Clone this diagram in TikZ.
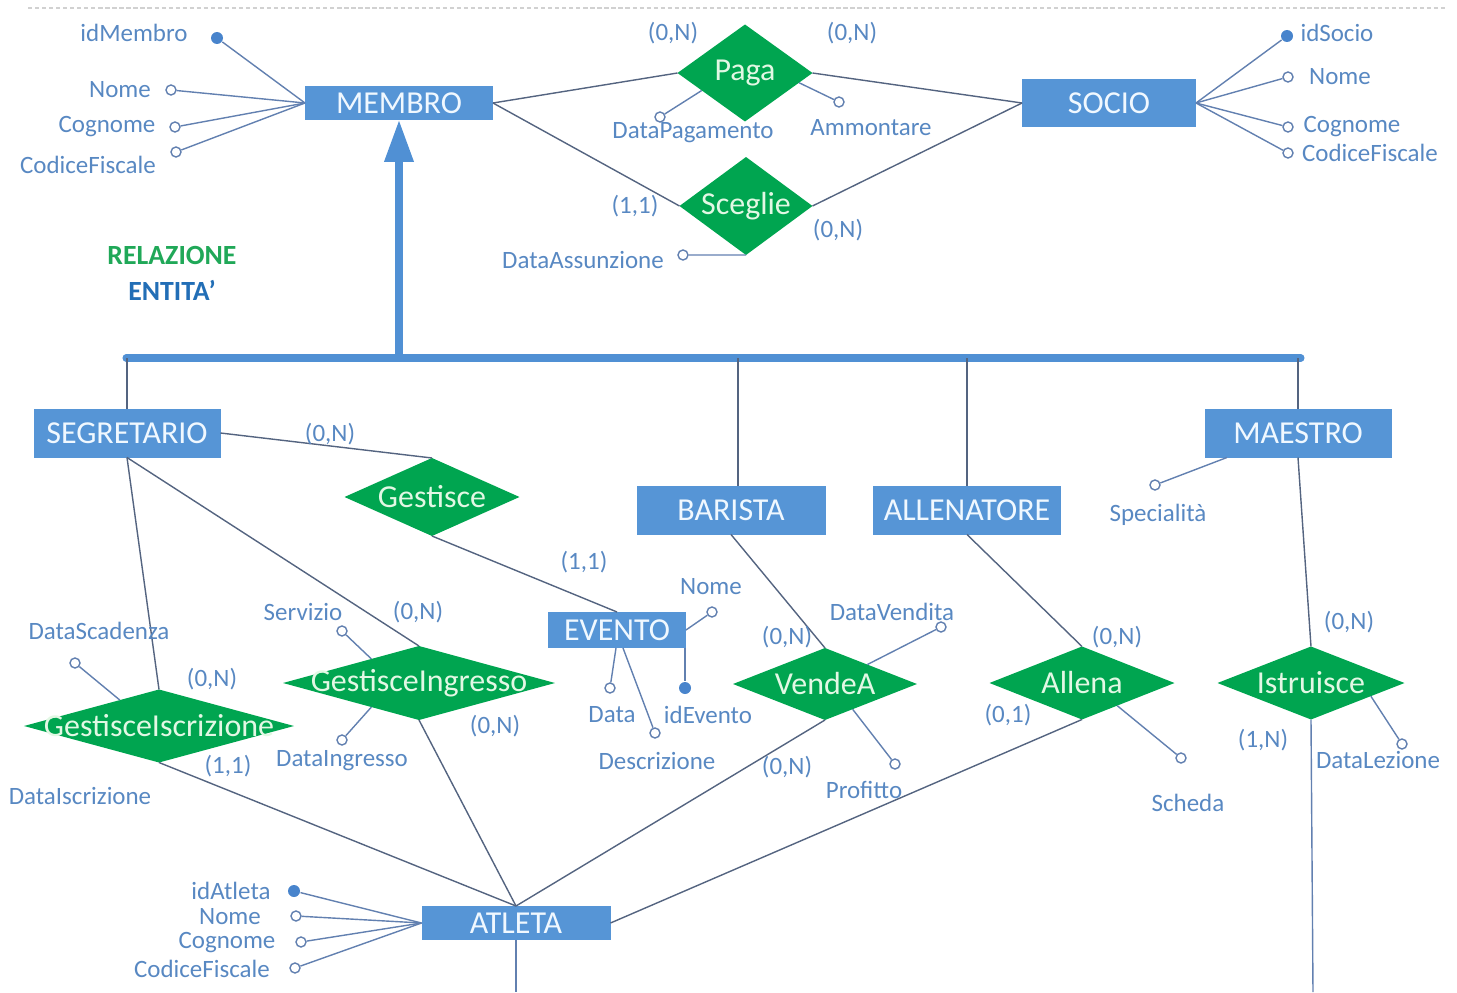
\documentclass[tikz,border=0pt]{standalone}
\usepackage{fontspec}
\setmainfont{Carlito}
\usetikzlibrary{shapes.geometric, arrows.meta, calc}
\definecolor{entblue}{RGB}{86,149,214}
\definecolor{relgreen}{RGB}{0,165,80}
\definecolor{attrblue}{RGB}{88,136,194}
\definecolor{linegray}{RGB}{84,100,128}
\definecolor{attrline}{RGB}{98,128,176}
\definecolor{keyblue}{RGB}{72,132,204}
\definecolor{isablue}{RGB}{80,144,212}
\definecolor{legendgreen}{RGB}{32,168,88}
\definecolor{legendblue}{RGB}{34,110,182}
\tikzset{
  entity/.style={rectangle, fill=entblue, text={rgb,255:red,240;green,248;blue,255}, inner sep=0pt, outer sep=0pt, font=\fontsize{9.1}{10}\selectfont},
  relation/.style={diamond, fill=relgreen, text={rgb,255:red,226;green,248;blue,228}, inner sep=0pt, outer sep=0pt, aspect=1, font=\fontsize{9.1}{10}\selectfont},
  attr/.style={circle, draw=attrline, fill=white, line width=0.4pt, inner sep=0pt, minimum size=0.1cm},
  keyattr/.style={circle, fill=keyblue, inner sep=0pt, minimum size=0.12cm},
  attrtext/.style={text=attrblue, inner sep=0pt, font=\fontsize{7.1}{8}\selectfont},
  card/.style={text=attrblue, inner sep=0pt, font=\fontsize{7.1}{8}\selectfont},
  conn/.style={draw=linegray, line width=0.4pt},
  attrconn/.style={draw=attrline, line width=0.4pt},
  isabar/.style={draw=isablue, line width=2pt},
  isachild/.style={draw=linegray, line width=0.55pt},
  topline/.style={draw=black!18, line width=0.4pt, dash pattern=on 1.2pt off 0.8pt}
}
\begin{document}
\begin{tikzpicture}
\useasboundingbox (0, 0) rectangle (14.57, 9.92);
\coordinate (tlL) at (0.28, 9.84);
\coordinate (tlR) at (14.45, 9.84);
\draw[topline] (tlL) -- (tlR);

\node[entity, minimum width=1.88cm, minimum height=0.34cm] (membro) at (3.99, 8.89) {MEMBRO};
\node[entity, minimum width=1.74cm, minimum height=0.48cm] (socio) at (11.09, 8.89) {SOCIO};
\node[entity, minimum width=1.87cm, minimum height=0.49cm] (segr) at (1.27, 5.59) {SEGRETARIO};
\node[entity, minimum width=1.89cm, minimum height=0.49cm] (barista) at (7.31, 4.82) {BARISTA};
\node[entity, minimum width=1.88cm, minimum height=0.49cm] (allen) at (9.67, 4.82) {ALLENATORE};
\node[entity, minimum width=1.87cm, minimum height=0.49cm] (maestro) at (12.98, 5.59) {MAESTRO};
\node[entity, minimum width=1.38cm, minimum height=0.36cm] (evento) at (6.17, 3.62) {EVENTO};
\node[entity, minimum width=1.89cm, minimum height=0.34cm] (atleta) at (5.16, 0.69) {ATLETA};

\node[relation, minimum width=1.35cm, minimum height=0.97cm] (paga) at (7.45, 9.19) {\makebox[0pt]{Paga}};
\node[relation, minimum width=1.33cm, minimum height=0.98cm] (sceglie) at (7.46, 7.86) {\makebox[0pt]{Sceglie}};
\node[relation, minimum width=1.75cm, minimum height=0.78cm] (gest) at (4.32, 4.95) {\makebox[0pt]{Gestisce}};
\node[relation, minimum width=2.72cm, minimum height=0.74cm] (gingr) at (4.19, 3.09) {\makebox[0pt]{GestisceIngresso}};
\node[relation, minimum width=2.70cm, minimum height=0.73cm] (giscr) at (1.59, 2.66) {\makebox[0pt]{GestisceIscrizione}};
\node[relation, minimum width=1.84cm, minimum height=0.72cm] (vende) at (8.25, 3.08) {\makebox[0pt]{VendeA}};
\node[relation, minimum width=1.85cm, minimum height=0.73cm] (allena) at (10.82, 3.09) {\makebox[0pt]{Allena}};
\node[relation, minimum width=1.87cm, minimum height=0.73cm] (istr) at (13.11, 3.09) {\makebox[0pt]{Istruisce}};

\node[text=legendgreen, font=\fontsize{7.9}{9}\selectfont\bfseries] (legRel) at (1.72, 7.37) {RELAZIONE};
\node[text=legendblue, font=\fontsize{7.9}{9}\selectfont\bfseries] (legEnt) at (1.72, 7.02) {ENTITA’};

% gerarchia
\coordinate (isaL) at (1.26, 6.34);
\coordinate (isaR) at (13.01, 6.34);
\coordinate (isaM) at (3.99, 6.34);
\coordinate (isaB) at (7.38, 6.34);
\draw[isabar, line cap=round] (isaL) -- (isaR);
\draw[isabar, -{Triangle[length=4.2mm, width=2.8mm]}] (isaM) -- (membro.south);
\draw[isachild] (segr.north |- isaL) -- (segr.north);
\draw[isachild] (isaB) -- (isaB |- barista.north);
\draw[isachild] (allen.north |- isaL) -- (allen.north);
\draw[isachild] (maestro.north |- isaL) -- (maestro.north);

% relazioni
\draw[conn] (membro.east) -- (paga.west);
\draw[conn] (paga.east) -- (socio.west);
\draw[conn] (membro.east) -- (sceglie.west);
\draw[conn] (sceglie.east) -- (socio.west);
\draw[conn] (segr.east) -- (gest.north);
\draw[conn] (gest.south) -- (evento.north);
\draw[conn] (segr.south) -- (giscr.north);
\draw[conn] (segr.south) -- (gingr.north);
\draw[conn] (giscr.south) -- (atleta.north);
\draw[conn] (gingr.south) -- (atleta.north);
\draw[conn] (barista.south) -- (vende.north);
\draw[conn] (vende.south) -- (atleta.north);
\draw[conn] (allen.south) -- (allena.north);
\draw[conn] (allena.south) -- (atleta.east);
\draw[conn] (maestro.south) -- (istr.north);
\coordinate (istrEnd) at (13.13, 0);
\coordinate (atlEnd) at (5.16, 0);
\draw[attrconn] (istr.south) -- (istrEnd);
\draw[attrconn] (atleta.south) -- (atlEnd);

\node[card] (cPagaM) at (6.73, 9.59) {(0,N)};
\node[card] (cPagaS) at (8.52, 9.59) {(0,N)};
\node[card] (cScM) at (6.35, 7.86) {(1,1)};
\node[card] (cScS) at (8.38, 7.62) {(0,N)};
\node[card] (cGeS) at (3.30, 5.58) {(0,N)};
\node[card] (cGeE) at (5.84, 4.30) {(1,1)};
\node[card] (cInS) at (4.18, 3.80) {(0,N)};
\node[card] (cIsS) at (2.12, 3.13) {(0,N)};
\node[card] (cIsA) at (2.28, 2.26) {(1,1)};
\node[card] (cInA) at (4.95, 2.66) {(0,N)};
\node[card] (cVeB) at (7.87, 3.55) {(0,N)};
\node[card] (cVeA) at (7.87, 2.25) {(0,N)};
\node[card] (cAlA) at (11.17, 3.55) {(0,N)};
\node[card] (cAlT) at (10.08, 2.77) {(0,1)};
\node[card] (cIsM) at (13.49, 3.70) {(0,N)};
\node[card] (cIsT) at (12.63, 2.52) {(1,N)};

% attributi MEMBRO
\node[keyattr] (mId) at (2.17, 9.54) {};
\node[attr] (mNome) at (1.71, 9.02) {};
\node[attr] (mCogn) at (1.75, 8.65) {};
\node[attr] (mCF) at (1.76, 8.40) {};
\draw[attrconn] (membro.west) -- (mId);
\draw[attrconn] (membro.west) -- (mNome);
\draw[attrconn] (membro.west) -- (mCogn);
\draw[attrconn] (membro.west) -- (mCF);
\node[attrtext] (mIdL) at (1.34, 9.59) {idMembro};
\node[attrtext] (mNomeL) at (1.20, 9.02) {Nome};
\node[attrtext] (mCognL) at (1.07, 8.65) {Cognome};
\node[attrtext] (mCFL) at (0.88, 8.27) {CodiceFiscale};

% attributi SOCIO
\node[keyattr] (sId) at (12.87, 9.56) {};
\node[attr] (sNome) at (12.88, 9.15) {};
\node[attr] (sCogn) at (12.88, 8.65) {};
\node[attr] (sCF) at (12.88, 8.39) {};
\draw[attrconn] (socio.east) -- (sId);
\draw[attrconn] (socio.east) -- (sNome);
\draw[attrconn] (socio.east) -- (sCogn);
\draw[attrconn] (socio.east) -- (sCF);
\node[attrtext] (sIdL) at (13.37, 9.59) {idSocio};
\node[attrtext] (sNomeL) at (13.40, 9.15) {Nome};
\node[attrtext] (sCognL) at (13.52, 8.65) {Cognome};
\node[attrtext] (sCFL) at (13.70, 8.39) {CodiceFiscale};

% attributi delle relazioni in alto
\node[attr] (pData) at (6.60, 8.75) {};
\node[attr] (pAmm) at (8.39, 8.90) {};
\node[attr] (scData) at (6.83, 7.37) {};
\draw[attrconn] ($(paga.west)!0.36!(paga.south)$) -- (pData);
\draw[attrconn] ($(paga.east)!0.2!(paga.south)$) -- (pAmm);
\draw[attrconn] (sceglie.south) -- (scData);
\node[attrtext] (pDataL) at (6.93, 8.59) {DataPagamento};
\node[attrtext] (pAmmL) at (8.71, 8.64) {Ammontare};
\node[attrtext] (scDataL) at (5.83, 7.32) {DataAssunzione};

% attributi in basso
\node[attr] (isScad) at (0.75, 3.29) {};
\draw[attrconn] ($(giscr.west)!0.71!(giscr.north)$) -- (isScad);
\node[attrtext] (isScadL) at (0.99, 3.61) {DataScadenza};
\node[attrtext] (isIscrL) at (0.80, 1.96) {DataIscrizione};
\node[attr] (inServ) at (3.42, 3.61) {};
\node[attr] (inData) at (3.42, 2.52) {};
\draw[attrconn] ($(gingr.west)!0.65!(gingr.north)$) -- (inServ);
\draw[attrconn] ($(gingr.west)!0.65!(gingr.south)$) -- (inData);
\node[attrtext] (inServL) at (3.03, 3.80) {Servizio};
\node[attrtext] (inDataL) at (3.42, 2.31) {DataIngresso};

\node[attr] (evNome) at (7.12, 3.80) {};
\node[keyattr] (evId) at (6.85, 3.04) {};
\node[attr] (evData) at (6.10, 3.04) {};
\node[attr] (evDesc) at (6.55, 2.59) {};
\draw[attrconn] (evento.east) -- (evNome);
\draw[attrconn] (evId |- evento.south) -- (evId);
\draw[attrconn] ($(evento.south)+(-0.01, 0)$) -- (evData);
\draw[attrconn] ($(evento.south)+(0.06, 0)$) -- (evDesc);
\node[attrtext] (evNomeL) at (7.11, 4.05) {Nome};
\node[attrtext] (evIdL) at (7.08, 2.77) {idEvento};
\node[attrtext] (evDataL) at (6.12, 2.77) {Data};
\node[attrtext] (evDescL) at (6.57, 2.31) {Descrizione};

\node[attr] (veData) at (9.41, 3.65) {};
\node[attr] (veProf) at (8.95, 2.28) {};
\draw[attrconn] ($(vende.north)!0.46!(vende.east)$) -- (veData);
\draw[attrconn] ($(vende.south)!0.3!(vende.east)$) -- (veProf);
\node[attrtext] (veDataL) at (8.92, 3.80) {DataVendita};
\node[attrtext] (veProfL) at (8.64, 2.02) {Profitto};

\node[attr] (alSch) at (11.81, 2.34) {};
\draw[attrconn] ($(allena.south)!0.38!(allena.east)$) -- (alSch);
\node[attrtext] (alSchL) at (11.88, 1.89) {Scheda};

\node[attr] (maSpec) at (11.55, 5.07) {};
\draw[attrconn] ($(maestro.south west)!0.12!(maestro.south east)$) -- (maSpec);
\node[attrtext] (maSpecL) at (11.58, 4.77) {Specialità};

\node[attr] (isLez) at (14.02, 2.48) {};
\draw[attrconn] ($(istr.south)!0.64!(istr.east)$) -- (isLez);
\node[attrtext] (isLezL) at (13.78, 2.32) {DataLezione};

% attributi ATLETA
\node[keyattr] (aId) at (2.94, 1.01) {};
\node[attr] (aNome) at (2.96, 0.76) {};
\node[attr] (aCogn) at (3.01, 0.50) {};
\node[attr] (aCF) at (2.95, 0.24) {};
\draw[attrconn] (atleta.west) -- (aId);
\draw[attrconn] (atleta.west) -- (aNome);
\draw[attrconn] (atleta.west) -- (aCogn);
\draw[attrconn] (atleta.west) -- (aCF);
\node[attrtext] (aIdL) at (2.31, 1.01) {idAtleta};
\node[attrtext] (aNomeL) at (2.30, 0.75) {Nome};
\node[attrtext] (aCognL) at (2.27, 0.49) {Cognome};
\node[attrtext] (aCFL) at (2.02, 0.23) {CodiceFiscale};
\end{tikzpicture}
\end{document}
